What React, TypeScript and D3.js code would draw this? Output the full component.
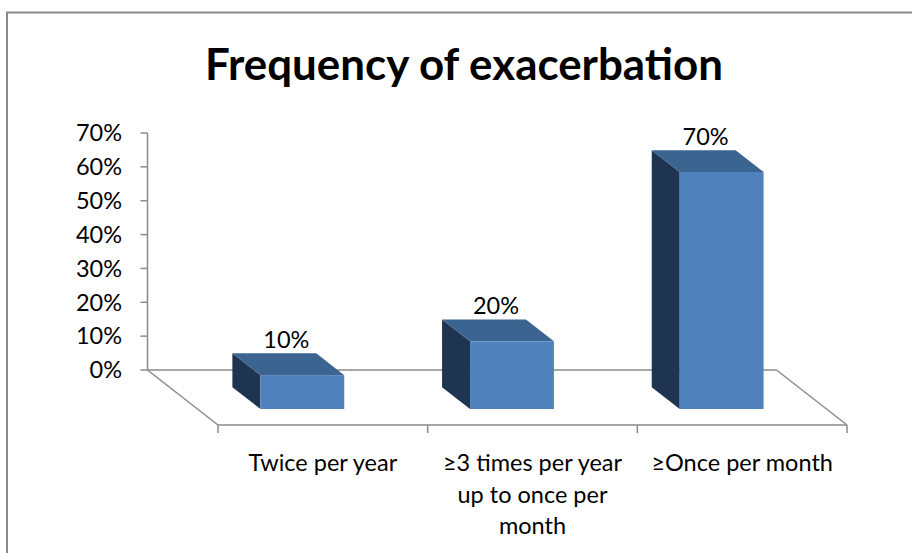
import React from "react";
import * as d3 from "d3";

const title = "Frequency of exacerbation";
const categories = ["Twice per year", "≥3 times per year up to once per month", "≥Once per month"];
const categoryLines = [["Twice per year"], ["≥3 times per year", "up to once per", "month"], ["≥Once per month"]];
const values = [0.1, 0.2, 0.7];
const yTicks = [0, 0.1, 0.2, 0.3, 0.4, 0.5, 0.6, 0.7];

const W = 912;
const H = 553;
const FONT = "Lato, 'Open Sans', sans-serif";
const LABEL_SIZE = 23.5;

export default function App() {
  // projection geometry
  const floorFrontY = 425;
  const floorLeft = 218;
  const floorRight = 847;
  const depthDX = -70.5;
  const depthDY = -55;
  const d1 = 0.291;
  const d2 = 0.688;

  const x = d3.scaleBand<string>().domain(categories).range([floorLeft, floorRight]).paddingInner(0.6).paddingOuter(0.3);
  const xCat = d3.scaleBand<string>().domain(categories).range([floorLeft, floorRight]).padding(0);
  const h = d3.scaleLinear().domain([0, 0.7]).range([0, 237]);

  const backY = floorFrontY + depthDY;
  const backLeft = floorLeft + depthDX;
  const backRight = floorRight + depthDX;

  const fmt = d3.format(".0%");
  const gray = "#8a8a8a";

  const bars = categories.map((c, i) => {
    const v = values[i];
    const x0 = x(c)!;
    const w = x.bandwidth();
    const sx1 = depthDX * d1, sy1 = depthDY * d1;
    const sx2 = depthDX * d2, sy2 = depthDY * d2;
    const bot1 = floorFrontY + sy1;
    const bot2 = floorFrontY + sy2;
    const top1 = bot1 - h(v);
    const top2 = bot2 - h(v);
    const fl = x0 + sx1, fr = x0 + w + sx1;
    const bl = x0 + sx2, br = x0 + w + sx2;
    const side = `M${fl},${top1}L${fl},${bot1}L${bl},${bot2}L${bl},${top2}Z`;
    const top = `M${fl},${top1}L${fr},${top1}L${br},${top2}L${bl},${top2}Z`;
    const labelX = (fl + fr + bl + br) / 4 - 2;
    const labelY = top2 - 5;
    return (
      <g key={c}>
        <path d={side} fill="#1f3450" />
        <path d={top} fill="#3c6490" />
        <rect x={fl} y={top1} width={w} height={bot1 - top1} fill="#4f81bd" />
        <text x={labelX} y={labelY} textAnchor="middle" fontSize={LABEL_SIZE} fontFamily={FONT} fill="#000">
          {fmt(v)}
        </text>
      </g>
    );
  });

  return (
    <svg width={W} height={H} style={{ position: "absolute", left: 0, top: 0, background: "#fff" }}>
      <rect x={0} y={0} width={W} height={H} fill="#fff" />
      <rect x={7} y={12.5} width={930} height={580} fill="none" stroke={gray} strokeWidth={2} />
      <text x={464} y={80} textAnchor="middle" fontSize={43} fontWeight="bold" fontFamily={FONT} fill="#000" textLength={518} lengthAdjust="spacingAndGlyphs">
        {title}
      </text>
      {/* value axis on back wall */}
      <line x1={backLeft} y1={backY} x2={backLeft} y2={backY - h(0.7)} stroke={gray} strokeWidth={1.5} />
      {yTicks.map((t) => (
        <g key={t}>
          <line x1={backLeft - 7} x2={backLeft} y1={backY - h(t)} y2={backY - h(t)} stroke={gray} strokeWidth={1.5} />
          <text x={122} y={backY - h(t)} dy="0.35em" textAnchor="end" fontSize={LABEL_SIZE} fontFamily={FONT} fill="#000">
            {fmt(t)}
          </text>
        </g>
      ))}
      {/* floor */}
      <line x1={backLeft} y1={backY} x2={backRight} y2={backY} stroke={gray} strokeWidth={1.5} />
      <line x1={backLeft} y1={backY} x2={floorLeft} y2={floorFrontY} stroke={gray} strokeWidth={1.5} />
      <line x1={backRight} y1={backY} x2={floorRight} y2={floorFrontY} stroke={gray} strokeWidth={1.5} />
      <line x1={floorLeft} y1={floorFrontY} x2={floorRight} y2={floorFrontY} stroke={gray} strokeWidth={1.5} />
      {[...categories.map((c) => xCat(c)!), floorRight].map((tx, i) => (
        <line key={i} x1={tx} x2={tx} y1={floorFrontY} y2={floorFrontY + 8} stroke={gray} strokeWidth={1.5} />
      ))}
      {bars}
      {categories.map((c, i) => (
        <text key={c} textAnchor="middle" fontSize={LABEL_SIZE} fontFamily={FONT} fill="#000">
          {categoryLines[i].map((ln, j) => (
            <tspan key={j} x={xCat(c)! + xCat.bandwidth() / 2} y={471 + j * 31.5}>
              {ln}
            </tspan>
          ))}
        </text>
      ))}
    </svg>
  );
}
